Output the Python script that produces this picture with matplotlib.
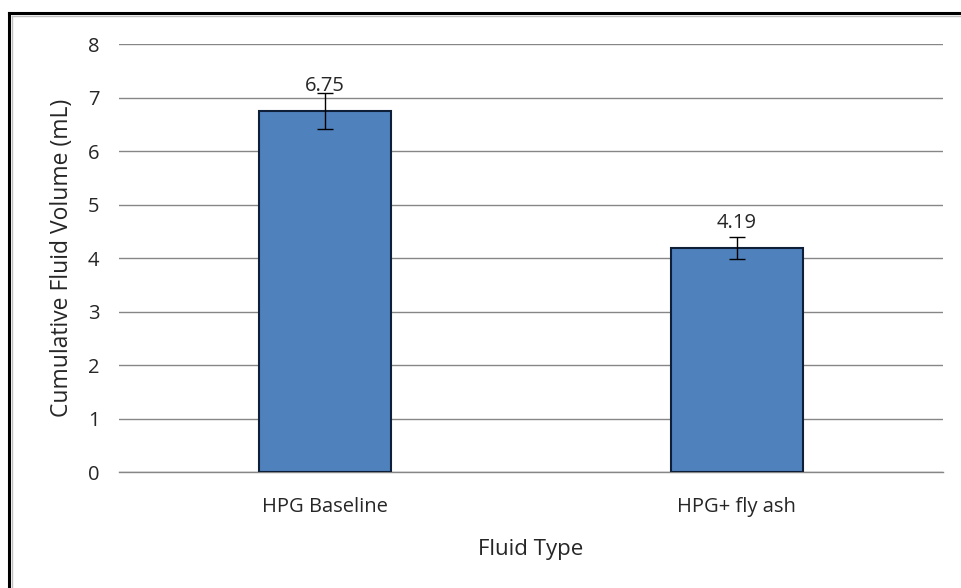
import matplotlib
matplotlib.use("Agg")
import matplotlib.pyplot as plt
from matplotlib.lines import Line2D

categories = ["HPG Baseline", "HPG+ fly ash"]
values = [6.75, 4.19]
errors = [0.34, 0.21]
yticks = [0, 1, 2, 3, 4, 5, 6, 7, 8]

plt.rcParams['font.family'] = ['Open Sans', 'DejaVu Sans']

fig = plt.figure(figsize=(9.62, 5.88), dpi=100)
ax = fig.add_axes([0.1237, 0.197, 0.8563, 0.728])

x = range(len(categories))
ax.bar(x, values, width=0.32, color="#4F81BD", edgecolor="#0F1F38", linewidth=1.5, zorder=3)
ax.errorbar(x, values, yerr=errors, fmt="none", ecolor="black", elinewidth=1.0,
            capsize=6, capthick=1.0, zorder=4)
for xi, v in zip(x, values):
    ax.text(xi, v + 0.28, f"{v:.2f}", ha="center", va="bottom", fontsize=14.5, color="#262626", zorder=5)

ax.set_xlim(-0.5, 1.5)
ax.set_ylim(0, 8)
ax.set_yticks(yticks)
ax.set_xticks(list(x))
ax.set_xticklabels(categories)
ax.yaxis.grid(True, color="#868686", linewidth=1.0, zorder=0)
ax.set_axisbelow(True)
for s in ["top", "right", "left"]:
    ax.spines[s].set_visible(False)
ax.spines["bottom"].set_color("#868686")
ax.spines["bottom"].set_linewidth(1.0)
ax.tick_params(axis="both", length=0, labelsize=14.5, colors="#262626")
ax.tick_params(axis="y", pad=14)
ax.tick_params(axis="x", pad=18)

ax.set_xlabel("Fluid Type", fontsize=16, color="#262626", labelpad=16)
ax.set_ylabel("Cumulative Fluid Volume (mL)", fontsize=16.5, color="#262626", labelpad=10)

# chart border (top and left edges)
fig.add_artist(Line2D([0.0094, 1.0], [0.978, 0.978], transform=fig.transFigure, color="black", linewidth=2.2))
fig.add_artist(Line2D([0.0094, 0.0094], [0.0, 0.978], transform=fig.transFigure, color="black", linewidth=2.2))
fig.add_artist(Line2D([0.0125, 1.0], [0.973, 0.973], transform=fig.transFigure, color="#BFBFBF", linewidth=1.0))
fig.add_artist(Line2D([0.0125, 0.0125], [0.0, 0.973], transform=fig.transFigure, color="#BFBFBF", linewidth=1.0))

fig.savefig("out.png", dpi=100, facecolor="white")
